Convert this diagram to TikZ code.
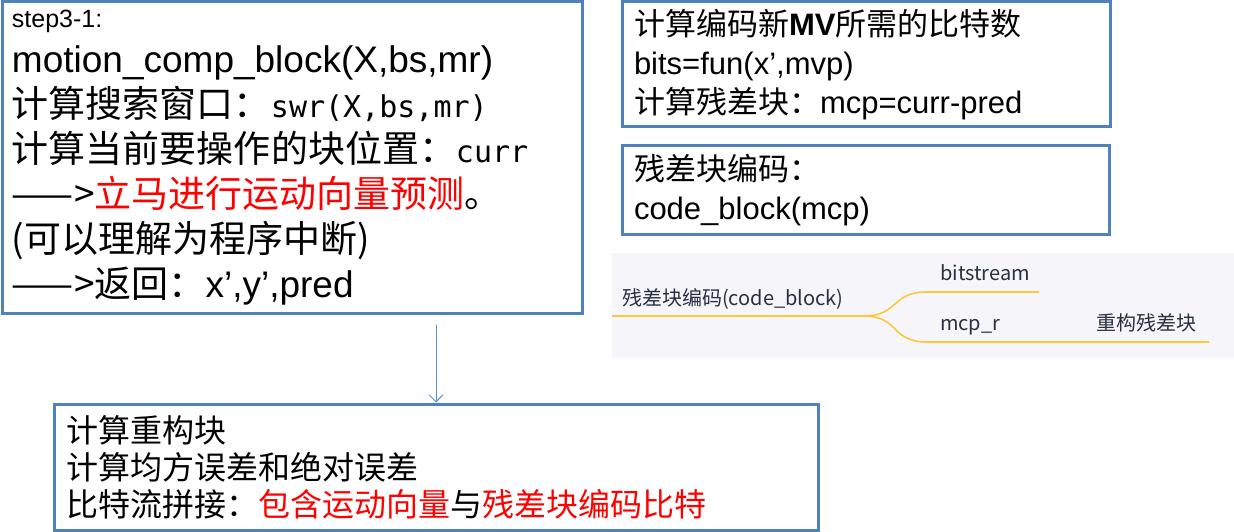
\documentclass[tikz,border=0pt]{standalone}
\usepackage{fontspec}
\setmainfont{Liberation Sans}
\newfontfamily\cjk{Noto Sans CJK SC}
\newfontfamily\halfmono{DejaVu Sans Mono}
\usetikzlibrary{arrows.meta, calc}
\definecolor{boxblue}{RGB}{79, 129, 189}
\definecolor{arrowblue}{RGB}{91, 142, 205}
\definecolor{mapgray}{RGB}{245, 245, 250}
\definecolor{mapyellow}{RGB}{255, 200, 60}
\definecolor{maptext}{RGB}{40, 48, 66}
\tikzset{
  stepbox/.style={draw=boxblue, line width=3pt, align=left, inner sep=0pt},
  mapline/.style={draw=mapyellow, line width=1.6pt},
  maplabel/.style={anchor=base west, inner sep=0pt, text=maptext, font=\cjk\fontsize{20}{24}\selectfont}
}

\begin{document}
\begin{tikzpicture}[x=1pt, y=-1pt]
  \useasboundingbox (0, 0) rectangle (1234, 532);

  % Motion compensation step
  \node[stepbox, minimum width=580pt, minimum height=311pt, text width=560pt,
        font=\fontsize{37}{45}\selectfont] (motion) at (292, 157.5) {
    {\fontsize{25}{28}\selectfont step3-1:}\\
    motion\_comp\_block(X,bs,mr)\\
    {\cjk 计算搜索窗口：}{\halfmono\fontsize{30}{45}\selectfont swr(X,bs,mr)}\\
    {\cjk 计算当前要操作的块位置：}{\halfmono\fontsize{30}{45}\selectfont curr}\\
    {\cjk ——>\textcolor{red}{立马进行运动向量预测}。}\\
    {\cjk (可以理解为程序中断)}\\
    {\cjk ——>返回：}x’,y’,pred
  };

  % Bits and residual
  \node[stepbox, minimum width=488pt, minimum height=125pt, text width=464pt,
        font=\fontsize{31}{39}\selectfont] (bits) at (866, 64.5) {
    {\cjk 计算编码新}\textbf{MV}{\cjk 所需的比特数}\\
    bits=fun(x’,mvp)\\
    {\cjk 计算残差块：}mcp=curr-pred
  };

  % Residual coding
  \node[stepbox, minimum width=487pt, minimum height=88pt, text width=463pt,
        font=\fontsize{31}{39}\selectfont] (resid) at (865.5, 190) {
    {\cjk 残差块编码：}\\
    code\_block(mcp)
  };

  % Reconstruction and bitstream
  \node[stepbox, minimum width=764pt, minimum height=126pt, text width=740pt,
        font=\cjk\fontsize{32}{37}\selectfont] (recon) at (436, 467) {
    计算重构块\\
    计算均方误差和绝对误差\\
    比特流拼接：\textcolor{red}{包含运动向量}与\textcolor{red}{残差块编码比特}
  };

  \draw[arrowblue, line width=0.9pt, -{Straight Barb[length=7pt, width=14pt]}]
    ($(recon.north |- motion.south)+(0, 10)$) -- (recon.north);

  % Mind map of code_block
  \fill[mapgray] (612, 253) rectangle (1234, 358);
  \coordinate (rootstart) at (612, 316);
  \coordinate (fork) at (863, 316);
  \coordinate (upbend) at (927, 292);
  \coordinate (upend) at (1039, 292);
  \coordinate (lowbend) at (927, 342);
  \coordinate (lowend) at (1209, 342);
  \draw[mapline] (rootstart) -- (fork);
  \draw[mapline] (fork) .. controls (900, 316) and (890, 292) .. (upbend) -- (upend);
  \draw[mapline] (fork) .. controls (900, 316) and (890, 342) .. (lowbend) -- (lowend);

  \node[maplabel] (root) at (622, 305) {残差块编码(code\_block)};
  \node[maplabel] (bitstream) at (940, 280) {bitstream};
  \node[maplabel] (mcpr) at (940, 330) {mcp\_r};
  \node[maplabel] (rebuild) at (1096, 330) {重构残差块};
\end{tikzpicture}
\end{document}
